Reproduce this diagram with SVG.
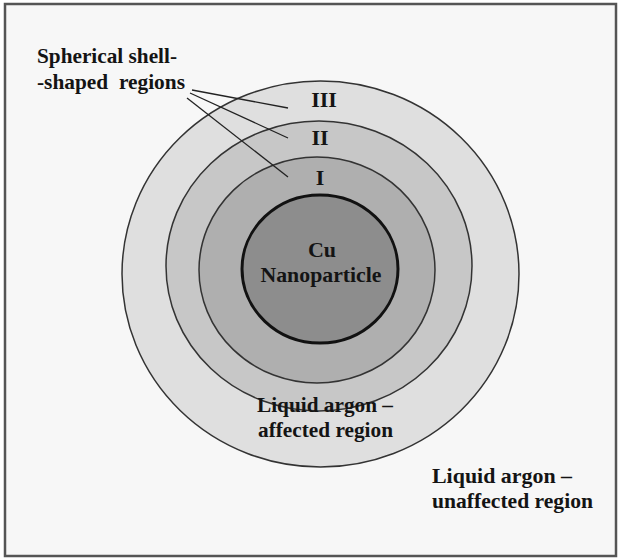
<svg xmlns="http://www.w3.org/2000/svg" width="618" height="558" viewBox="0 0 618 558">
<style>
.t{font-family:"Liberation Serif","Times New Roman",serif;font-weight:bold;font-size:22px;fill:#141414}
.ring{stroke:#333;stroke-width:1.5}
.lead{stroke:#222;stroke-width:1.3;fill:none}
</style>
<rect x="0" y="0" width="618" height="558" fill="#ffffff"/>
<rect x="5" y="4" width="611" height="552" fill="#f7f7f7" stroke="#555" stroke-width="2.5"/>
<g id="region-III"><ellipse cx="320.5" cy="274" rx="198.5" ry="193" fill="#dfdfdf" class="ring"/></g>
<g id="region-II"><ellipse cx="319" cy="266" rx="153" ry="145" fill="#c7c7c7" class="ring"/></g>
<g id="region-I"><ellipse cx="317" cy="270" rx="118" ry="113" fill="#afafaf" class="ring"/></g>
<g id="nanoparticle"><ellipse cx="320" cy="269" rx="78" ry="74" fill="#8d8d8d" stroke="#111" stroke-width="3"/>
<text class="t" x="322" y="257" text-anchor="middle">Cu</text>
<text class="t" x="321" y="282" text-anchor="middle" textLength="121" lengthAdjust="spacingAndGlyphs">Nanoparticle</text></g>
<g id="labels-roman">
<text class="t" x="324" y="107" text-anchor="middle">III</text>
<text class="t" x="320" y="145" text-anchor="middle">II</text>
<text class="t" x="320" y="185" text-anchor="middle">I</text>
</g>
<g id="shell-label"><text class="t" x="37" y="63" textLength="140" lengthAdjust="spacingAndGlyphs">Spherical shell-</text>
<text class="t" x="37" y="89" textLength="148" lengthAdjust="spacingAndGlyphs" xml:space="preserve">-shaped  regions</text></g>
<g id="affected-label"><text class="t" x="257" y="412" textLength="136" lengthAdjust="spacingAndGlyphs">Liquid argon –</text>
<text class="t" x="258" y="437" textLength="135" lengthAdjust="spacingAndGlyphs">affected region</text></g>
<g id="unaffected-label"><text class="t" x="432" y="483" textLength="140" lengthAdjust="spacingAndGlyphs">Liquid argon –</text>
<text class="t" x="432" y="508" textLength="161" lengthAdjust="spacingAndGlyphs">unaffected region</text></g>
<g id="connectors">
<line class="lead" x1="192" y1="90" x2="288" y2="108"/>
<line class="lead" x1="190" y1="93" x2="288" y2="138"/>
<line class="lead" x1="187" y1="98" x2="288" y2="177"/>
</g>
</svg>
